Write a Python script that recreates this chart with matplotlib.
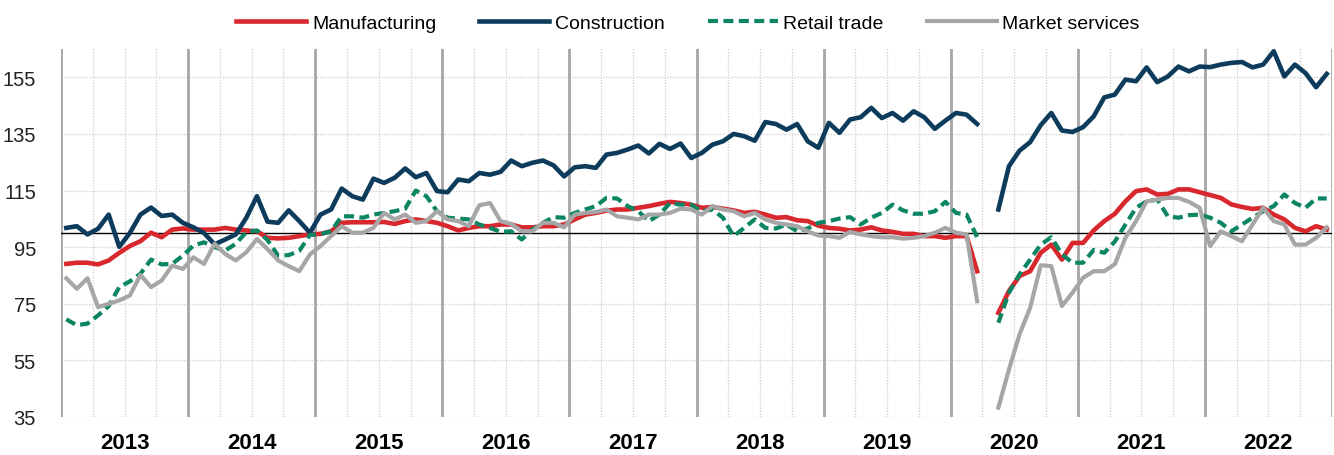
import matplotlib
matplotlib.use("Agg")
import matplotlib.pyplot as plt
import numpy as np

nan = np.nan

years = list(range(2013, 2023))

# monthly index values, Jan 2013 .. Dec 2022 (Apr 2020 missing)
manufacturing = [
    89.1, 89.5, 89.5, 88.9, 90.3, 93.0, 95.4, 97.1, 100.1, 98.5, 101.2, 101.6,
    101.2, 101.2, 101.2, 101.8, 101.2, 100.9, 100.6, 98.3, 98.1, 98.3, 98.9, 99.5,
    99.7, 100.6, 103.6, 103.8, 103.8, 103.8, 103.9, 103.2, 104.2, 104.8, 104.2, 103.6,
    102.4, 100.9, 101.8, 102.4, 102.4, 103.0, 103.0, 102.0, 102.0, 102.4, 102.4, 103.0,
    104.8, 106.5, 107.1, 107.9, 108.3, 108.3, 108.9, 109.5, 110.3, 111.0, 110.6, 110.0,
    108.9, 109.2, 108.6, 108.0, 107.1, 107.5, 106.5, 105.4, 105.6, 104.5, 104.2, 102.6,
    101.8, 101.5, 100.9, 101.2, 102.0, 100.9, 100.4, 99.7, 99.7, 98.9, 98.9, 98.3,
    98.9, 98.9, 86.5, nan, 71.8, 79.5, 84.8, 86.5, 93.0, 95.9, 90.6, 96.5,
    96.5, 100.9, 104.2, 106.8, 111.2, 114.8, 115.4, 113.6, 113.8, 115.4, 115.4, 114.4,
    113.4, 112.4, 110.1, 109.2, 108.5, 108.9, 106.5, 104.8, 101.8, 100.6, 102.4, 101.2,
]

construction = [
    101.8, 102.4, 99.5, 101.5, 106.5, 95.1, 100.0, 106.5, 109.0, 106.0, 106.5, 103.6,
    102.0, 100.0, 96.0, 97.7, 99.5, 105.4, 113.0, 104.0, 103.6, 108.0, 104.2, 100.1,
    106.5, 108.3, 115.7, 113.0, 111.8, 119.2, 117.7, 119.5, 122.8, 119.7, 121.2, 114.8,
    114.4, 118.9, 118.3, 121.2, 120.6, 121.6, 125.6, 123.6, 124.8, 125.6, 123.9, 120.0,
    123.2, 123.6, 123.0, 127.7, 128.3, 129.5, 130.9, 128.1, 131.5, 129.7, 131.6, 126.5,
    128.3, 131.2, 132.4, 135.0, 134.2, 132.6, 139.2, 138.5, 136.5, 138.5, 132.4, 130.1,
    138.9, 135.4, 140.1, 140.9, 144.2, 140.6, 142.4, 139.7, 143.0, 140.9, 136.8, 139.7,
    142.4, 141.8, 138.5, nan, 108.3, 123.6, 129.1, 132.1, 138.1, 142.4, 136.2, 135.7,
    137.4, 141.2, 147.9, 148.9, 154.2, 153.6, 158.5, 153.3, 155.3, 158.8, 157.1, 158.8,
    158.6, 159.5, 160.1, 160.4, 158.5, 159.5, 164.2, 155.3, 159.5, 156.5, 151.5, 156.2,
]

retail = [
    69.5, 67.4, 68.0, 70.9, 74.2, 80.9, 82.9, 85.6, 90.6, 88.9, 89.1, 92.0,
    95.6, 96.7, 95.0, 93.8, 96.2, 100.3, 100.9, 97.5, 92.0, 92.2, 93.7, 99.3,
    99.6, 100.6, 105.9, 105.9, 105.4, 106.5, 107.1, 107.7, 108.6, 115.0, 113.0, 107.7,
    105.4, 105.1, 104.8, 103.0, 101.8, 100.4, 100.6, 97.7, 101.2, 103.6, 105.6, 105.4,
    107.1, 108.3, 109.5, 112.4, 112.2, 109.5, 107.7, 104.2, 106.5, 110.6, 110.0, 110.0,
    107.7, 108.3, 105.4, 98.9, 101.8, 104.8, 101.8, 101.6, 103.0, 100.6, 101.6, 103.6,
    104.2, 105.1, 105.6, 103.0, 105.4, 107.1, 110.0, 108.0, 106.8, 106.8, 107.7, 111.0,
    107.1, 106.5, 98.5, nan, 68.3, 78.9, 85.4, 90.6, 95.9, 98.5, 92.5, 89.5,
    89.5, 94.0, 93.0, 97.0, 103.0, 108.9, 111.2, 111.8, 105.9, 105.4, 106.3, 106.5,
    105.4, 103.6, 100.6, 103.0, 105.4, 107.7, 109.5, 113.6, 110.6, 108.9, 112.2, 112.2,
]

market_services = [
    84.0, 80.3, 84.0, 73.8, 75.0, 76.2, 77.9, 85.2, 80.9, 83.2, 88.5, 87.3,
    91.4, 89.1, 96.2, 92.6, 90.3, 93.2, 97.9, 94.3, 90.3, 88.3, 86.5, 92.4,
    95.4, 98.9, 102.4, 100.1, 100.1, 101.8, 107.1, 104.8, 106.5, 103.6, 104.2, 107.7,
    104.8, 104.2, 102.4, 109.8, 110.6, 104.2, 103.2, 100.6, 100.6, 103.6, 103.6, 102.0,
    106.5, 107.1, 107.4, 108.3, 105.9, 105.4, 104.8, 106.5, 106.5, 107.1, 108.6, 108.3,
    106.5, 109.5, 108.3, 107.7, 105.9, 107.1, 104.8, 103.6, 103.0, 102.4, 100.6, 99.1,
    98.9, 98.3, 100.4, 99.5, 98.9, 98.5, 98.5, 98.0, 98.3, 98.9, 100.1, 101.8,
    100.1, 99.5, 75.9, nan, 38.3, 51.8, 64.2, 73.6, 88.6, 88.3, 74.2, 78.9,
    84.2, 86.5, 86.5, 89.0, 98.3, 104.2, 111.2, 111.8, 112.4, 112.4, 111.0, 108.9,
    95.4, 100.6, 98.9, 97.1, 103.0, 108.9, 104.2, 103.0, 95.9, 95.9, 98.3, 102.0,
]

yticks = [35, 55, 75, 95, 115, 135, 155]

# month positions as decimal years (mid-month)
x = 2013 + (np.arange(len(manufacturing)) + 0.5) / 12

plt.rcParams["font.family"] = ["Liberation Sans", "DejaVu Sans"]

fig = plt.figure(figsize=(13.34, 4.56), dpi=100)
ax = fig.add_axes([61 / 1334, 1 - 418 / 456, 1271 / 1334, 368 / 456])

# grid
for v in yticks:
    ax.axhline(v, color="#d4d4d4", lw=1, ls=(0, (1, 1)), zorder=0)
quarters = [y + q / 4 for y in years for q in (1, 2, 3)]
for q in quarters:
    ax.axvline(q, color="#d4d4d4", lw=1, ls=(0, (1, 1)), zorder=0)
for y in years + [2023]:
    ax.axvline(y, color="#a6a6a6", lw=2, zorder=1)
ax.axhline(100, color="black", lw=1, zorder=1)

ax.plot(x, manufacturing, color="#d9272e", lw=3.3, label="Manufacturing", zorder=3)
ax.plot(x, construction, color="#0d3b5c", lw=3.3, label="Construction", zorder=3)
ax.plot(x, retail, color="#0b8563", lw=3, dashes=(2.4, 1.3), label="Retail trade", zorder=3)
ax.plot(x, market_services, color="#a6a6a6", lw=3, label="Market services", zorder=4)

ax.set_xlim(2013, 2023)
ax.set_ylim(35, 165)
ax.set_yticks(yticks)
ax.set_yticklabels([str(v) for v in yticks], fontsize=14.5, color="#222222")
ax.set_xticks([y + 0.5 for y in years])
ax.set_xticklabels([str(y) for y in years], fontsize=16, fontweight="bold")
ax.tick_params(axis="y", length=0, pad=18)
ax.tick_params(axis="x", length=0, pad=11)
for s in ax.spines.values():
    s.set_visible(False)

fig.legend(loc="center", bbox_to_anchor=(688 / 1334, 1 - 24 / 456), ncol=4,
           frameon=False, fontsize=14, handlelength=3.6, handletextpad=0.3,
           columnspacing=2.2)

fig.savefig("out.png", dpi=100)
